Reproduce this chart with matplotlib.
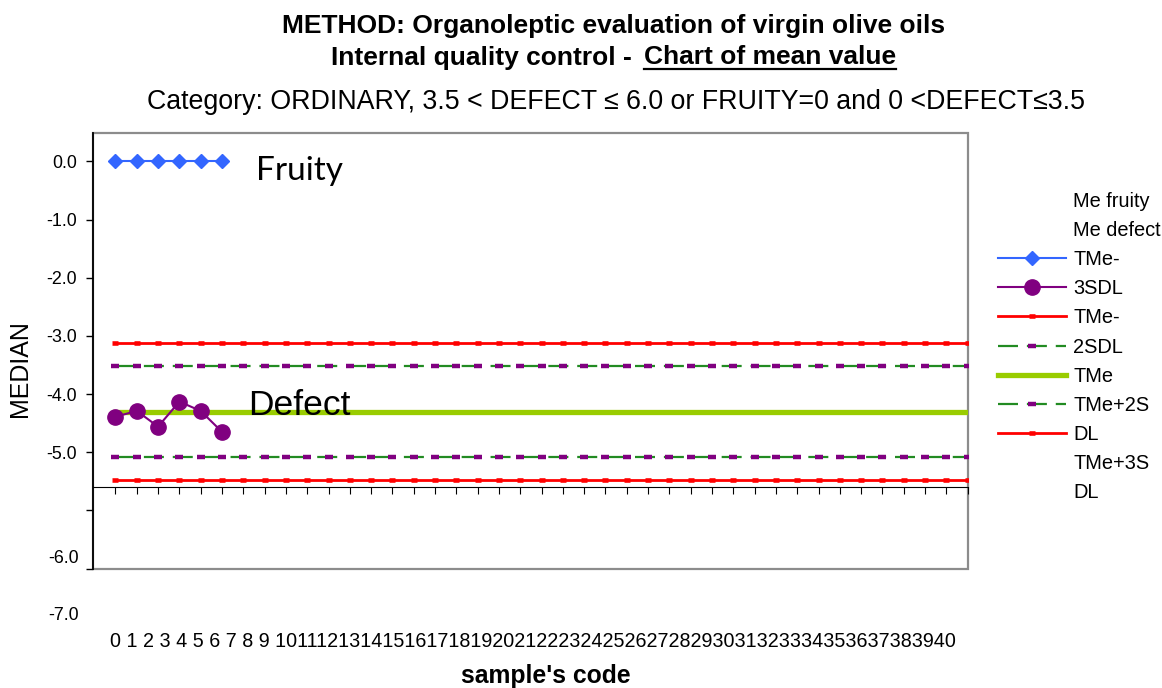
import matplotlib
matplotlib.use("Agg")
import matplotlib.pyplot as plt
from matplotlib.lines import Line2D
from matplotlib.patches import Rectangle
from matplotlib.transforms import blended_transform_factory

plt.rcParams['font.family'] = ['Liberation Sans', 'DejaVu Sans']

# values
sample_codes = list(range(41))
fruity_codes = [0, 1, 2, 3, 4, 5]
fruity_median = [0.0, 0.0, 0.0, 0.0, 0.0, 0.0]
defect_codes = [0, 1, 2, 3, 4, 5]
defect_median = [-4.39, -4.29, -4.56, -4.13, -4.29, -4.65]

upper_3s = -3.13
upper_2s = -3.52
tme = -4.30
lower_2s = -5.08
lower_3s = -5.47

ytick_values = [0, -1, -2, -3, -4, -5, -6, -7]
ytick_labels = ['0.0', '-1.0', '-2.0', '-3.0', '-4.0', '-5.0', '', '']
extra_ylabels = ['-6.0', '-7.0']
legend_labels = ['Me fruity', 'Me defect', 'TMe-', '3SDL', 'TMe-', '2SDL', 'TMe',
                 'TMe+2S', 'DL', 'TMe+3S', 'DL']

W, H = 1162, 688
fig = plt.figure(figsize=(W / 100, H / 100), dpi=100)
ax = fig.add_axes([93.3 / W, 1 - 568.5 / H, (967.7 - 93.3) / W, (568.5 - 133) / H])
ax.set_xlim(-1.04, 39)
ax.set_ylim(-7.0, 0.49)

n = len(sample_codes)
red_kw = dict(color='#FF0000', lw=2.0, marker='_', ms=5, mew=3.3)
dash_kw = dict(color='#228B22', lw=1.6, linestyle=(0, (9, 4)), marker='_', ms=5.5,
               mec='#800080', mew=3.2)
l_red = ax.plot(sample_codes, [upper_3s] * n, **red_kw)[0]
l_dash = ax.plot(sample_codes, [upper_2s] * n, **dash_kw)[0]
l_tme = ax.plot(sample_codes, [tme] * n, color='#99CC00', lw=3.8)[0]
ax.plot(sample_codes, [lower_2s] * n, **dash_kw)
ax.plot(sample_codes, [lower_3s] * n, **red_kw)
l_fruity = ax.plot(fruity_codes, fruity_median, color='#3366FF', lw=1.5,
                   marker='D', ms=7, zorder=4)[0]
l_defect = ax.plot(defect_codes, defect_median, color='#800080', lw=1.5,
                   marker='o', ms=11, zorder=4)[0]

ax.text(6.58, -0.315, 'Fruity', family=['Lato', 'DejaVu Sans'], fontsize=24)
ax.text(6.25, -4.36, 'Defect', fontsize=25.5)

# axes: black left axis, category axis crossing at -5.6, grey plot frame
ax.spines['top'].set_visible(False)
ax.spines['right'].set_visible(False)
ax.spines['left'].set_color('black')
ax.spines['left'].set_linewidth(1.3)
ax.spines['bottom'].set_position(('data', -5.6))
ax.spines['bottom'].set_color('black')
ax.spines['bottom'].set_linewidth(0.8)
ax.add_patch(Rectangle((0, 0), 1, 1, transform=ax.transAxes, fill=False,
                       edgecolor='#8c8c8c', lw=1.6, clip_on=False, zorder=0.5))

ax.set_xticks(sample_codes)
ax.tick_params(axis='x', direction='out', length=5, width=0.8, labelbottom=False)
ax.set_yticks(ytick_values, ytick_labels)
ax.tick_params(axis='y', direction='out', length=5, width=1, labelsize=12.9, pad=7)

trans = blended_transform_factory(ax.transAxes, ax.transData)
for lab, yv in zip(extra_ylabels, [-6.90, -7.89]):
    ax.text(-0.0165, yv, lab, transform=trans, ha='right', va='baseline',
            fontsize=12.9, clip_on=False)

codes_text = ' '.join(str(c) for c in sample_codes[:10]) + ' ' + \
    ''.join(str(c) for c in sample_codes[10:])
fig.text(110 / W, 1 - 646.7 / H, codes_text, ha='left', va='baseline', fontsize=14.2)

fig.text(20.3 / W, 1 - 369 / H, 'MEDIAN', rotation=90, ha='center', va='center',
         fontsize=18)
fig.text(546 / W, 1 - 683 / H, "sample's code", ha='center', va='baseline',
         fontsize=17.8, fontweight='bold')

# titles
fig.text(614 / W, 1 - 33.5 / H, 'METHOD: Organoleptic evaluation of virgin olive oils',
         ha='center', va='baseline', fontsize=19, fontweight='bold')
fig.text(639 / W, 1 - 64.5 / H, 'Internal quality control - ', ha='right',
         va='baseline', fontsize=19, fontweight='bold')
t_under = fig.text(644 / W, 1 - 64.5 / H, 'Chart of mean value', ha='left',
                   va='baseline', fontsize=19, fontweight='bold')
fig.text(616 / W, 1 - 109 / H,
         'Category: ORDINARY, 3.5 < DEFECT \u2264 6.0 or FRUITY=0 and 0 <DEFECT\u22643.5',
         ha='center', va='baseline', fontsize=19.3)

fig.canvas.draw()
bb = t_under.get_window_extent(fig.canvas.get_renderer())
bb = bb.transformed(fig.transFigure.inverted())
fig.add_artist(Line2D([bb.x0, bb.x1], [1 - 69 / H] * 2, color='black', lw=1.6,
                      transform=fig.transFigure))

# legend (labels are offset from the series, as in the original)
blank = Line2D([], [], linestyle='none')
handles = [blank, blank, l_fruity, l_defect, l_red, l_dash, l_tme, l_dash, l_red,
           blank, blank]
fig.legend(handles, legend_labels, loc='upper left',
           bbox_to_anchor=(998 / W, 1 - 192 / H), frameon=False, fontsize=14.4,
           handlelength=3.4, handletextpad=0.35, labelspacing=0.505,
           borderpad=0, borderaxespad=0)

fig.savefig('out.png', dpi=100)
